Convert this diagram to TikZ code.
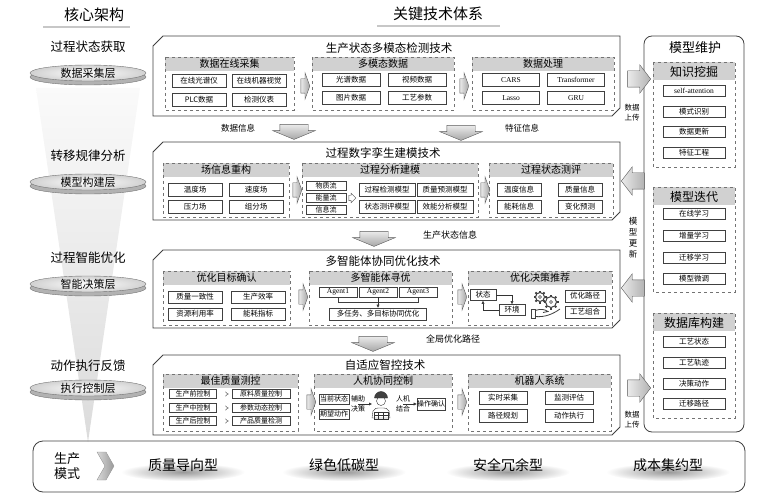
\documentclass[tikz,border=0pt]{standalone}
\usepackage{fontspec}
\setmainfont{Noto Sans CJK SC}
\newfontfamily\latfont{Liberation Serif}
\usetikzlibrary{shapes.arrows, arrows.meta}

\begin{document}
\begin{tikzpicture}[x=1pt, y=-1pt,
		band/.style={draw=black!75, line width=0.8pt, fill=white},
		grp/.style={draw=black!55, dashed, line width=0.6pt},
		hdr/.style={fill=black!18},
		cell/.style={draw=black!75, fill=white, line width=0.6pt, inner sep=0pt, minimum width=#1, minimum height=13pt, font=\fontsize{7.5}{8}\selectfont},
		cell/.default=54pt,
		lat/.style={font=\fontsize{7.5}{8}\latfont},
		small/.style={minimum height=9pt, font=\fontsize{7}{8}\selectfont},
		grptitle/.style={font=\fontsize{10}{11}\selectfont, inner sep=0pt},
		bandtitle/.style={font=\fontsize{11.5}{13}\selectfont, inner sep=0pt},
		coltitle/.style={font=\fontsize{12.5}{14}\selectfont, inner sep=0pt},
		note/.style={font=\fontsize{8.5}{10}\selectfont, inner sep=0pt, align=center},
		downarrow/.style={single arrow, draw=black!65, top color=black!8, bottom color=black!35, inner sep=0pt, inner ysep=14pt, minimum height=15pt, single arrow head extend=7pt, single arrow tip angle=135, rotate=-90},
		sidearrow/.style={single arrow, draw=black!65, left color=black!8, right color=black!30, inner sep=0pt, inner ysep=8pt, minimum height=23pt, single arrow head extend=6pt, single arrow tip angle=105},
		grparrow/.style={single arrow, draw=black!65, left color=black!8, right color=black!35, inner sep=0pt, inner ysep=7pt, minimum height=9pt, single arrow head extend=6pt, single arrow tip angle=140},
		tinyarrow/.style={single arrow, draw=black!70, fill=white, inner sep=0pt, inner ysep=2.5pt, minimum height=7pt, single arrow head extend=2pt, single arrow tip angle=90},
		tip/.style={-{Latex[length=3pt, width=3pt]}, black!80}
	]
	\useasboundingbox (0,0) rectangle (763,497);

	\node[font=\fontsize{15}{16}\selectfont] (core) at (94,15) {核心架构};
	\draw[black!22, line width=1.2pt] (43,27) -- (130,27);
	\node[font=\fontsize{15}{16}\selectfont] (tech) at (438,14) {关键技术体系};
	\draw[black!22, line width=1.2pt] (377,26) -- (500,26);

	\shade[top color=black!2, bottom color=black!14] (36,88) -- (140,88) -- (88,442) -- cycle;
	\foreach \lab/\ly/\dsk/\dy [count=\i] in {过程状态获取/47/数据采集层/73, 转移规律分析/156/模型构建层/182, 过程智能优化/258/智能决策层/284, 动作执行反馈/366/执行控制层/388} {
		\node[coltitle] (lay\i) at (88,\ly) {\lab};
		\draw[black!55, fill=black!30] (88,\dy+4) ellipse (58pt and 8pt);
		\shadedraw[draw=black!55, inner color=white, outer color=black!18] (88,\dy) ellipse (58pt and 8pt);
		\node[font=\fontsize{11}{12}\selectfont] (disk\i) at (88,\dy) {\dsk};
	}

	\foreach \t/\b in {36/116, 142/220, 250/328, 355/435}
		\draw[band] (153,\t+10) -- (163,\t) -- (620,\t) -- (620,\b-8) -- (612,\b) -- (153,\b) -- cycle;
	\node[bandtitle] (bt1) at (389,48) {生产状态多模态检测技术};
	\node[bandtitle] (bt2) at (383,153) {过程数字孪生建模技术};
	\node[bandtitle] (bt3) at (383,261) {多智能体协同优化技术};
	\node[bandtitle] (bt4) at (385,365) {自适应智控技术};

	\foreach \xa/\ya/\xb/\yb/\ttl [count=\i] in {165/57/294/110/数据在线采集, 312/57/454/110/多模态数据, 472/57/614/110/数据处理, 163/163/289/217/场信息重构, 302/163/478/217/过程分析建模, 489/163/613/217/过程状态测评, 163/271/290/325/优化目标确认, 309/271/452/325/多智能体寻优, 468/271/612/325/优化决策推荐, 163/374/298/431/最佳质量测控, 314/374/452/431/人机协同控制, 468/374/611/431/机器人系统} {
		\fill[hdr] (\xa,\ya) rectangle (\xb,\ya+14);
		\draw[grp] (\xa,\ya) rectangle (\xb,\yb);
		\node[grptitle] (g\i) at ({(\xa+\xb)/2},\ya+7) {\ttl};
	}
	\foreach \x/\y [count=\i] in {304/86, 463/86, 296/190, 484/190, 302/297, 461/297, 310/402, 461/402}
		\node[grparrow] (ga\i) at (\x,\y) {};

	\foreach \txt/\x/\y [count=\i] in {在线光谱仪/199/81, 在线机器视觉/259/81, PLC数据/199/99.5, 检测仪表/259/99.5}
		\node[cell] (acq\i) at (\x,\y) {\txt};
	\foreach \txt/\x/\y [count=\i] in {光谱数据/351/80, 视频数据/417/80, 图片数据/351/98, 工艺参数/417/98}
		\node[cell=58pt] (mod\i) at (\x,\y) {\txt};
	\foreach \txt/\x/\y [count=\i] in {CARS/511/80, Transformer/576/80, Lasso/511/98, GRU/576/98}
		\node[cell=57pt, lat] (proc\i) at (\x,\y) {\txt};

	\foreach \txt/\x/\y [count=\i] in {温度场/195/190, 速度场/256/190, 压力场/195/207, 组分场/256/207}
		\node[cell] (fld\i) at (\x,\y) {\txt};
	\foreach \txt/\y [count=\i] in {物质流/186, 能量流/198, 信息流/210}
		\node[cell=40pt, small] (flow\i) at (326,\y) {\txt};
	\node[tinyarrow] (fa) at (351,198) {};
	\foreach \txt/\x/\y [count=\i] in {过程检测模型/387/190, 质量预测模型/445/190, 状态测评模型/387/207, 效能分析模型/445/207}
		\node[cell=56pt] (mdl\i) at (\x,\y) {\txt};
	\foreach \txt/\x/\y [count=\i] in {温度信息/519/190, 质量信息/580/190, 能耗信息/519/207, 变化预测/580/207}
		\node[cell=44pt] (eva\i) at (\x,\y) {\txt};

	\foreach \txt/\x/\y [count=\i] in {质量一致性/195/297, 生产效率/258/297, 资源利用率/195/314, 能耗指标/258/314}
		\node[cell, minimum height=12pt] (obj\i) at (\x,\y) {\txt};
	\foreach \txt/\x [count=\i] in {Agent1/338, Agent2/378, Agent3/418}
		\node[cell=38pt, minimum height=10pt, lat] (ag\i) at (\x,292) {\txt};
	\node[cell=97pt, minimum height=12pt] (mt) at (378,314) {多任务、多目标协同优化};
	\draw[black!75] (ag1.south) -- ++(0,5) -| (ag3.south);
	\draw[tip] (ag2.south) -- (mt.north);
	\node[cell=26pt, minimum height=11pt] (st) at (483,295) {状态};
	\node[cell=26pt, minimum height=11pt] (env) at (512,310) {环境};
	\draw[tip] (st.east) -| (env.north);
	\draw[tip] (env.west) -| (st.south);
	\foreach \cx/\cy/\rad in {540/297/4.5, 551/302/5.5} {
		\foreach \a in {0,45,...,315}
			\draw[line width=1.8pt, black!75] (\cx,\cy) ++(\a:\rad pt) -- ++(\a:2pt);
		\draw[line width=1pt, black!75, fill=white] (\cx,\cy) circle (\rad pt);
		\draw[black!75] (\cx,\cy) circle (1.5pt);
	}
	\draw[black!75, line width=0.8pt, fill=white] (531,309) rectangle (535,318);
	\draw[black!75, line width=0.8pt] (535,310.5) .. controls (541,308.5) and (545,309.5) .. (548,311.5) -- (543,312.5) (535,316.5) .. controls (545,317.5) and (553,314) .. (560,309);
	\foreach \txt/\y [count=\i] in {优化路径/296, 工艺组合/312}
		\node[cell=40pt, minimum height=12pt] (rec\i) at (585,\y) {\txt};

	\foreach \a/\b/\y [count=\i] in {生产前控制/原料质量控制/394, 生产中控制/参数动态控制/408, 生产后控制/产品质量检测/421} {
		\node[cell=47pt, small, line width=0.9pt] (pre\i) at (193,\y) {\a};
		\node[cell=58pt, small, line width=0.9pt] (qc\i) at (261,\y) {\b};
		\draw[double, double distance=1.2pt, -{Implies}, black!80, shorten <=2pt, shorten >=3pt] (pre\i) -- (qc\i);
	}
	\foreach \txt/\y [count=\i] in {当前状态/399, 期望动作/414}
		\node[cell=30pt, minimum height=10pt, font=\fontsize{7}{8}\selectfont] (hs\i) at (334,\y) {\txt};
	\node[note, font=\fontsize{7}{9.5}\selectfont] (aid) at (358,404) {辅助\\决策};
	\coordinate (wkl) at (372,404);
	\draw[tip] (aid.center) -- (wkl);
	\draw[black!80, fill=white] (372,418) -- (373,411) .. controls (374,408) and (377,408) .. (381,408) .. controls (385,408) and (388,408) .. (389,411) -- (390,418) -- cycle;
	\draw[black!80, fill=white] (381,401) circle (4.5pt);
	\draw[black!80, fill=black!75] (374.5,398) arc[start angle=180, end angle=0, radius=6.5pt] -- cycle;
	\draw[black!80] (374,412) rectangle (388,419) (378.5,412) -- (378.5,419) (383.5,412) -- (383.5,419) (374,415.5) -- (388,415.5);
	\node[note, font=\fontsize{7}{9.5}\selectfont] (hm) at (403,404) {人机\\结合};
	\node[cell=28pt, minimum height=12pt, font=\fontsize{7}{8}\selectfont] (okc) at (431,404) {操作确认};
	\draw[tip] (hm.center) -- (okc.west);
	\foreach \txt/\x/\y [count=\i] in {实时采集/503/398, 监测评估/569/398, 路径规划/503/416, 动作执行/569/416}
		\node[cell=48pt] (rob\i) at (\x,\y) {\txt};

	\node[downarrow] (da1) at (294,129) {};
	\node[note] (dl1) at (238,128) {数据信息};
	\node[downarrow] (da2) at (461,130) {};
	\node[note] (dl2) at (522,128) {特征信息};
	\node[downarrow] (da3) at (374,236) {};
	\node[note, font=\fontsize{9}{10}\selectfont] (dl3) at (450,235) {生产状态信息};
	\node[downarrow] (da4) at (373,341) {};
	\node[note, font=\fontsize{9}{10}\selectfont] (dl4) at (453,339) {全局优化路径};

	\draw[black!75, line width=0.8pt, rounded corners=8pt] (644,36) rectangle (744,432);
	\node[font=\fontsize{13}{14}\selectfont] (mm) at (695,48) {模型维护};
	\foreach \ya/\yb/\ttl [count=\i] in {62/167/知识挖掘, 187/292/模型迭代, 313/418/数据库构建} {
		\fill[hdr] (653,\ya) rectangle (735,\ya+18);
		\draw[grp] (653,\ya) rectangle (735,\yb);
		\node[font=\fontsize{12}{13}\selectfont] (rg\i) at (694,\ya+9.5) {\ttl};
	}
	\foreach \txt/\y [count=\i] in {{\latfont self-attention}/91, 模式识别/112, 数据更新/132, 特征工程/153, 在线学习/214, 增量学习/236, 迁移学习/258, 模型微调/279, 工艺状态/342, 工艺轨迹/363, 决策动作/384, 迁移路径/404}
		\node[cell=62pt, minimum height=11pt] (rc\i) at (694,\y) {\txt};
	\node[sidearrow] (sa1) at (636,79) {};
	\node[sidearrow, rotate=180] (sa2) at (636,181) {};
	\node[sidearrow, rotate=180] (sa3) at (636,288) {};
	\node[sidearrow] (sa4) at (636,388) {};
	\node[note, font=\fontsize{7.5}{10}\selectfont] (up1) at (632,113) {数据\\上传};
	\node[note, font=\fontsize{8.5}{11}\selectfont] (upd) at (633,237.5) {模\\型\\更\\新};
	\node[note, font=\fontsize{7.5}{10}\selectfont] (up2) at (632,420) {数据\\上传};

	\draw[black!75, line width=0.8pt, rounded corners=10pt] (33,441) rectangle (745,492);
	\node[note, font=\fontsize{13}{15}\selectfont] (pm) at (67,466) {生产\\模式};
	\shadedraw[draw=black!40, left color=black!15, right color=black!40] (97,452) -- (106,452) -- (114,466) -- (106,480) -- (97,480) -- (105,466) -- cycle;
	\foreach \txt/\x [count=\i] in {质量导向型/183, 绿色低碳型/344, 安全冗余型/508, 成本集约型/668} {
		\shade[inner color=black!40, outer color=white] (\x,472) ellipse (62pt and 9pt);
		\node[font=\fontsize{14}{15}\selectfont] (mode\i) at (\x,465) {\txt};
	}
\end{tikzpicture}
\end{document}
